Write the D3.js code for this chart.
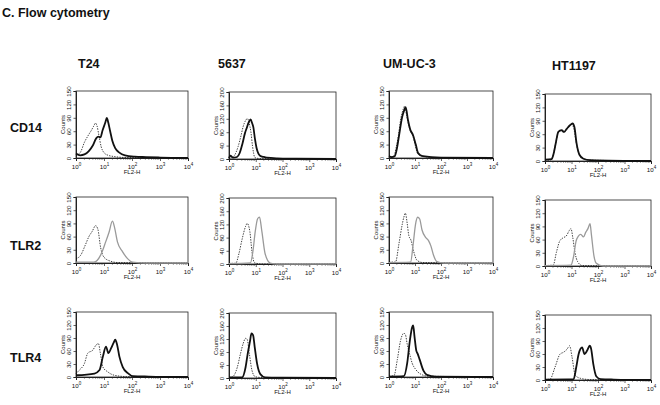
<!DOCTYPE html>
<html lang="en">
<head>
<meta charset="UTF-8">
<script src="https://cdn.jsdelivr.net/npm/d3@7"></script>
<title>Flow cytometry</title>
<style>
	body { margin: 0; background: #fff; font-family: Arial, "Liberation Sans", sans-serif; }
	.lbl { font-weight: bold; font-size: 12.5px; fill: #111; }
	.tick text { font-size: 6.2px; fill: #111; }
	.axis-title { font-size: 6px; fill: #111; }
	.iso { fill: none; stroke: #111; stroke-width: 0.8; stroke-dasharray: 1.4 1.2; }
	.pos { fill: none; stroke: #111; stroke-width: 1.8; }
	.pos.gray { stroke: #9a9a9a; stroke-width: 1.3; }
</style>
</head>
<body>
<svg id="fig" width="660" height="405"></svg>
<script>
// cell lines (columns) and markers (rows)
const cellLines = ['T24', '5637', 'UM-UC-3', 'HT1197'];
const markers = ['CD14', 'TLR2', 'TLR4'];
const yMaxByLine = [150, 200, 150, 150];
const xExponents = [0, 1, 2, 3, 4];

// histograms: [log10 FL2-H, counts]; iso = isotype control (dotted)
const t24Cd14Iso = [[0,6],[0.15,12],[0.3,35],[0.45,52],[0.55,62],[0.62,70],[0.7,78],[0.75,72],[0.82,50],[0.9,25],[1.0,12],[1.15,6],[1.4,3],[1.8,1],[4,0]];
const t24Cd14 = [[0,10],[0.15,6],[0.3,8],[0.45,15],[0.6,28],[0.72,44],[0.8,48],[0.87,46],[0.95,62],[1.05,80],[1.1,90],[1.15,80],[1.22,60],[1.3,38],[1.4,22],[1.55,12],[1.75,6],[2.1,3],[2.5,2],[3,1],[4,0]];
const c5637Cd14Iso = [[0,2],[0.09,3],[0.2,10],[0.34,37],[0.45,70],[0.53,97],[0.62,115],[0.69,121],[0.75,108],[0.82,80],[0.88,38],[0.97,4],[1.2,1],[4,0]];
const c5637Cd14 = [[0,2],[0.05,10],[0.15,4],[0.3,6],[0.4,18],[0.5,45],[0.6,78],[0.66,92],[0.74,110],[0.81,118],[0.86,108],[0.91,95],[0.97,60],[1.03,33],[1.1,16],[1.16,10],[1.3,6],[1.41,4],[1.8,2],[2.5,1],[4,0]];
const umCd14Iso = [[0,6],[0.1,3],[0.2,6],[0.28,25],[0.36,50],[0.46,90],[0.54,108],[0.6,116],[0.68,95],[0.78,68],[0.86,56],[0.94,45],[1.01,28],[1.1,10],[1.3,4],[1.8,1],[4,0]];
const umCd14 = [[0,4],[0.1,2],[0.22,4],[0.3,20],[0.38,48],[0.51,93],[0.58,106],[0.64,114],[0.73,85],[0.82,63],[0.92,52],[1.03,30],[1.12,11],[1.3,4],[2.0,1],[4,0]];
const htCd14Iso = [[0,2],[0.2,2],[0.3,12],[0.38,32],[0.5,64],[0.6,68],[0.7,64],[0.8,70],[0.92,78],[1.02,82],[1.09,72],[1.18,40],[1.3,14],[1.45,5],[1.7,2],[4,0]];
const htCd14 = [[0,3],[0.25,4],[0.32,15],[0.4,38],[0.5,65],[0.56,68],[0.63,69],[0.72,65],[0.82,72],[0.94,80],[1.04,84],[1.11,76],[1.19,40],[1.3,14],[1.45,5],[1.7,2],[4,0]];

const t24Tlr2Iso = [[0,10],[0.16,17],[0.34,42],[0.46,60],[0.58,72],[0.7,85],[0.78,77],[0.88,35],[1.0,13],[1.24,4],[1.5,1],[4,0]];
const t24Tlr2 = [[0,2],[0.64,2],[0.88,18],[1.06,48],[1.18,70],[1.3,95],[1.38,80],[1.48,48],[1.66,26],[1.84,10],[2.02,2],[2.5,0],[4,0]];
const c5637Tlr2Iso = [[0,2],[0.25,2],[0.37,31],[0.49,75],[0.62,114],[0.68,123],[0.78,98],[0.86,37],[0.95,4],[1.2,0],[4,0]];
const c5637Tlr2 = [[0,1],[0.8,3],[0.9,42],[0.98,98],[1.07,137],[1.14,142],[1.23,98],[1.35,31],[1.54,3],[1.8,0],[4,0]];
const umTlr2Iso = [[0,2],[0.25,2],[0.38,43],[0.51,88],[0.57,104],[0.63,113],[0.7,90],[0.76,63],[0.85,51],[0.95,26],[1.08,6],[1.3,1],[4,0]];
const umTlr2 = [[0,1],[0.83,2],[0.93,43],[1.02,88],[1.1,104],[1.18,100],[1.27,75],[1.4,59],[1.52,51],[1.61,39],[1.71,18],[1.84,3],[2.1,0],[4,0]];
const htTlr2Iso = [[0,1],[0.31,2],[0.43,31],[0.55,56],[0.68,64],[0.8,68],[0.92,81],[0.98,85],[1.05,64],[1.13,31],[1.23,10],[1.4,1],[4,0]];
const htTlr2 = [[0,1],[0.98,2],[1.08,22],[1.17,56],[1.26,68],[1.35,72],[1.45,66],[1.54,77],[1.62,85],[1.7,96],[1.75,72],[1.85,22],[1.94,6],[2.2,0],[4,0]];

const t24Tlr4Iso = [[0,8],[0.12,16],[0.3,31],[0.42,55],[0.6,62],[0.72,74],[0.8,77],[0.87,55],[0.96,23],[1.13,12],[1.37,4],[1.8,1],[4,0]];
const t24Tlr4 = [[0,4],[0.66,8],[0.84,16],[0.96,47],[1.07,70],[1.16,55],[1.25,66],[1.35,80],[1.4,86],[1.47,74],[1.55,47],[1.67,23],[1.85,9],[2.03,2],[2.6,1],[4,0]];
const c5637Tlr4Iso = [[0,2],[0.12,3],[0.31,33],[0.43,75],[0.53,106],[0.62,122],[0.68,119],[0.76,75],[0.86,23],[0.98,4],[1.3,1],[4,0]];
const c5637Tlr4 = [[0,2],[0.49,2],[0.62,33],[0.7,75],[0.78,111],[0.84,137],[0.9,132],[0.96,96],[1.05,44],[1.17,12],[1.35,2],[2.0,1],[4,0]];
const umTlr4Iso = [[0,2],[0.19,3],[0.32,40],[0.44,83],[0.57,101],[0.63,98],[0.7,76],[0.79,54],[0.89,32],[1.02,18],[1.21,7],[1.5,2],[4,0]];
const umTlr4 = [[0,1],[0.57,2],[0.7,32],[0.8,83],[0.89,115],[0.93,119],[0.98,94],[1.05,61],[1.1,54],[1.18,40],[1.33,14],[1.46,5],[1.8,1],[4,0]];
const htTlr4Iso = [[0,1],[0.19,2],[0.38,30],[0.57,60],[0.7,64],[0.83,71],[0.93,79],[1.02,53],[1.14,11],[1.33,4],[1.7,1],[4,0]];
const htTlr4 = [[0,1],[1.08,2],[1.18,30],[1.27,60],[1.4,75],[1.49,60],[1.59,68],[1.69,79],[1.74,72],[1.82,38],[1.94,8],[2.1,2],[2.6,1],[4,0]];

// [row][col] -> [iso, stained]
const panels = [
	[[t24Cd14Iso, t24Cd14], [c5637Cd14Iso, c5637Cd14], [umCd14Iso, umCd14], [htCd14Iso, htCd14]],
	[[t24Tlr2Iso, t24Tlr2], [c5637Tlr2Iso, c5637Tlr2], [umTlr2Iso, umTlr2], [htTlr2Iso, htTlr2]],
	[[t24Tlr4Iso, t24Tlr4], [c5637Tlr4Iso, c5637Tlr4], [umTlr4Iso, umTlr4], [htTlr4Iso, htTlr4]]
];

// layout
const colLeft = [76, 229, 389, 545];
const colWidth = [112, 107, 104, 106];
const colShift = [0, 1, 0, 3];
const rowTop = [91, 197, 312];
const rowHeight = [67, 66, 65];
const headerX = [78, 218, 383, 552];

const svg = d3.select('#fig');

svg.append('text').attr('class', 'lbl').attr('x', 2).attr('y', 17).text('C. Flow cytometry');

cellLines.forEach((name, c) => {
	svg.append('text').attr('class', 'lbl').attr('x', headerX[c]).attr('y', c === 3 ? 70 : 68).text(name);
});
const rowLabelY = [132, 250, 362];
markers.forEach((m, r) => {
	svg.append('text').attr('class', 'lbl').attr('x', 10).attr('y', rowLabelY[r]).text(m);
});

panels.forEach((row, r) => {
	row.forEach(([iso, pos], c) => {
		const x0 = colLeft[c], w = colWidth[c];
		const y0 = rowTop[r] + colShift[c], h = rowHeight[r];
		const yMax = yMaxByLine[c];
		const g = svg.append('g').attr('transform', `translate(${x0},${y0})`);

		const x = d3.scaleLinear().domain([0, 4]).range([0, w]);   // log10 space
		const y = d3.scaleLinear().domain([0, yMax]).range([h, 0]);

		// frame
		g.append('rect').attr('width', w).attr('height', h)
			.attr('fill', 'none').attr('stroke', '#222').attr('stroke-width', 0.8);

		// minor log ticks
		const minor = [];
		for (let d = 0; d < 4; d++) for (let k = 2; k <= 9; k++) minor.push(d + Math.log10(k));
		g.selectAll('.minor').data(minor).join('line').attr('class', 'minor')
			.attr('x1', d => x(d)).attr('x2', d => x(d)).attr('y1', h).attr('y2', h + 1.8)
			.attr('stroke', '#222').attr('stroke-width', 0.5);

		// x axis
		const xa = g.append('g').attr('transform', `translate(0,${h})`)
			.call(d3.axisBottom(x).tickValues(xExponents).tickSize(3).tickFormat(''));
		xa.select('.domain').attr('stroke', '#222').attr('stroke-width', 1);
		xa.selectAll('.tick line').attr('stroke', '#222').attr('stroke-width', 0.7);
		xa.selectAll('.tick').append('text')
			.attr('y', 10.5).attr('text-anchor', 'middle').attr('fill', '#111')
			.each(function (d) {
				const t = d3.select(this);
				t.append('tspan').text('10');
				t.append('tspan').attr('dy', -2.8).attr('font-size', '4.5px').text(d);
			});
		g.append('text').attr('class', 'axis-title').attr('x', w / 2).attr('y', h + 16)
			.attr('text-anchor', 'middle').text('FL2-H');

		// y axis
		const step = yMax === 200 ? 40 : 30;
		const ya = g.append('g')
			.call(d3.axisLeft(y).tickValues(d3.range(0, yMax + 1, step)).tickSize(2.5).tickFormat(''));
		ya.select('.domain').attr('stroke', '#222').attr('stroke-width', 1);
		ya.selectAll('.tick line').attr('stroke', '#222').attr('stroke-width', 0.7);
		ya.selectAll('.tick').append('text')
			.attr('transform', 'translate(-5,0) rotate(-90)')
			.attr('text-anchor', 'middle').attr('fill', '#111').text(d => d);
		g.append('text').attr('class', 'axis-title')
			.attr('transform', `translate(-11.5,${h / 2}) rotate(-90)`)
			.attr('text-anchor', 'middle').text('Counts');

		const line = d3.line().x(d => x(d[0])).y(d => y(d[1])).curve(d3.curveMonotoneX);
		g.append('path').attr('class', 'iso').attr('d', line(iso));
		g.append('path').attr('class', r === 1 ? 'pos gray' : 'pos').attr('d', line(pos));
	});
});
</script>
</body>
</html>
